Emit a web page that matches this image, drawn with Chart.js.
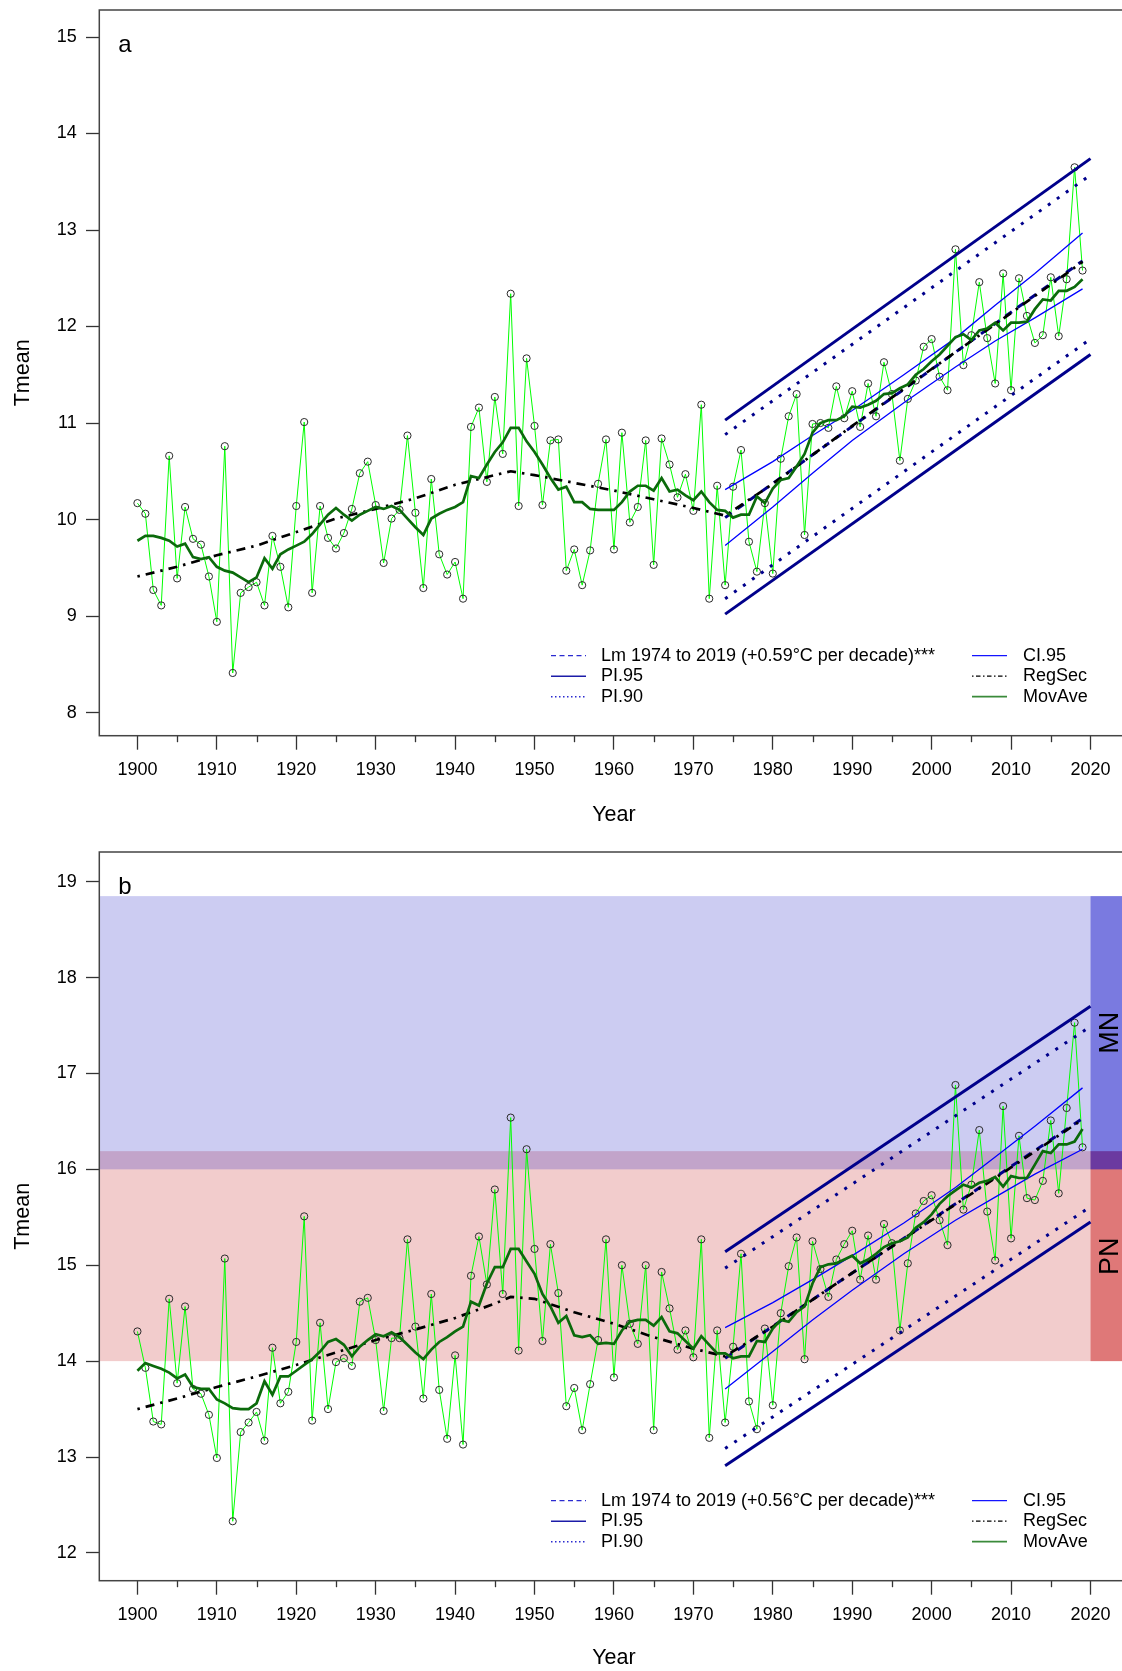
<!DOCTYPE html>
<html>
<head>
<meta charset="utf-8">
<title>Tmean 1900-2019</title>
<script src="https://cdn.jsdelivr.net/npm/chart.js@4.4.1/dist/chart.umd.min.js"></script>
<style>
  html, body { margin: 0; padding: 0; background: #fff; overflow: hidden; }
  body { width: 1122px; height: 1671px; position: relative; }
  canvas { position: absolute; left: 0; }
  #chart-a { top: -30px; }
  #chart-b { top: 812px; }
</style>
</head>
<body>
<canvas id="chart-a" width="1140" height="880"></canvas>
<canvas id="chart-b" width="1140" height="881"></canvas>
<script>
// categories
const years = Array.from({ length: 120 }, (_, i) => 1900 + i);
const xTicks = [1900, 1910, 1920, 1930, 1940, 1950, 1960, 1970, 1980, 1990, 2000, 2010, 2020];
const xMinorTicks = [1905, 1915, 1925, 1935, 1945, 1955, 1965, 1975, 1985, 1995, 2005, 2015];
const yTicksA = [8, 9, 10, 11, 12, 13, 14, 15];
const yTicksB = [12, 13, 14, 15, 16, 17, 18, 19];

// panel a - yearly mean
const tmeanA = [10.17, 10.06, 9.27, 9.11, 10.66, 9.39, 10.13, 9.80, 9.74, 9.41,
  8.94, 10.76, 8.41, 9.24, 9.30, 9.35, 9.11, 9.83, 9.51, 9.09,
  10.14, 11.01, 9.24, 10.14, 9.81, 9.70, 9.86, 10.11, 10.48, 10.60,
  10.15, 9.55, 10.01, 10.10, 10.87, 10.07, 9.29, 10.42, 9.64, 9.43,
  9.56, 9.18, 10.96, 11.16, 10.39, 11.27, 10.68, 12.34, 10.14, 11.67,
  10.97, 10.15, 10.82, 10.83, 9.47, 9.69, 9.32, 9.68, 10.37, 10.83,
  9.69, 10.90, 9.97, 10.13, 10.82, 9.53, 10.84, 10.57, 10.23, 10.47,
  10.09, 11.19, 9.18, 10.35, 9.32, 10.34, 10.72, 9.77, 9.46, 10.17,
  9.44, 10.63, 11.07, 11.30, 9.84, 10.99, 11.00, 10.95, 11.38, 11.05,
  11.33, 10.96, 11.41, 11.07, 11.63, 11.30, 10.61, 11.25, 11.44, 11.79,
  11.87, 11.48, 11.34, 12.80, 11.60, 11.91, 12.46, 11.88, 11.41, 12.55,
  11.34, 12.50, 12.11, 11.83, 11.91, 12.51, 11.90, 12.49, 13.65, 12.58];

const movAveA = [9.78, 9.83, 9.83, 9.81, 9.78, 9.72, 9.75, 9.61, 9.59, 9.61,
  9.51, 9.47, 9.45, 9.40, 9.35, 9.40, 9.60, 9.49, 9.64, 9.69,
  9.73, 9.77, 9.85, 9.95, 10.05, 10.12, 10.05, 9.99, 10.05, 10.09,
  10.13, 10.11, 10.14, 10.10, 10.01, 9.92, 9.84, 10.01, 10.06, 10.10,
  10.13, 10.18, 10.45, 10.43, 10.57, 10.70, 10.80, 10.95, 10.95, 10.81,
  10.70, 10.57, 10.43, 10.31, 10.34, 10.18, 10.18, 10.11, 10.10, 10.10,
  10.10, 10.18, 10.29, 10.35, 10.35, 10.30, 10.43, 10.29, 10.31, 10.25,
  10.20, 10.29, 10.18, 10.10, 10.09, 10.02, 10.05, 10.05, 10.24, 10.17,
  10.32, 10.41, 10.43, 10.55, 10.68, 10.90, 11.00, 11.03, 11.03, 11.07,
  11.17, 11.16, 11.19, 11.23, 11.30, 11.31, 11.36, 11.40, 11.50, 11.56,
  11.64, 11.71, 11.80, 11.89, 11.92, 11.86, 11.96, 11.98, 12.04, 11.96,
  12.04, 12.04, 12.05, 12.18, 12.28, 12.27, 12.37, 12.37, 12.41, 12.49];

// panel b - yearly mean
const tmeanB = [14.31, 13.93, 13.37, 13.34, 14.65, 13.77, 14.57, 13.71, 13.66, 13.44,
  12.99, 15.07, 12.33, 13.26, 13.36, 13.47, 13.17, 14.14, 13.56, 13.68,
  14.20, 15.51, 13.38, 14.40, 13.50, 13.99, 14.03, 13.95, 14.62, 14.66,
  14.22, 13.48, 14.24, 14.24, 15.27, 14.36, 13.61, 14.70, 13.70, 13.19,
  14.06, 13.13, 14.89, 15.30, 14.80, 15.79, 14.70, 16.54, 14.11, 16.21,
  15.17, 14.21, 15.22, 14.71, 13.53, 13.72, 13.28, 13.76, 14.22, 15.27,
  13.83, 15.00, 14.39, 14.18, 15.00, 13.28, 14.93, 14.55, 14.12, 14.32,
  14.04, 15.27, 13.20, 14.32, 13.36, 14.15, 15.12, 13.58, 13.29, 14.34,
  13.54, 14.50, 14.99, 15.29, 14.02, 15.25, 14.96, 14.67, 15.06, 15.22,
  15.36, 14.85, 15.31, 14.85, 15.43, 15.23, 14.32, 15.02, 15.54, 15.67,
  15.73, 15.47, 15.21, 16.88, 15.58, 15.84, 16.41, 15.56, 15.05, 16.66,
  15.28, 16.35, 15.70, 15.68, 15.88, 16.51, 15.75, 16.64, 17.53, 16.23];

const movAveB = [13.90, 13.98, 13.95, 13.92, 13.88, 13.82, 13.86, 13.73, 13.71, 13.71,
  13.60, 13.56, 13.51, 13.50, 13.50, 13.56, 13.79, 13.65, 13.84, 13.84,
  13.90, 13.96, 14.02, 14.10, 14.20, 14.23, 14.17, 14.05, 14.15, 14.22,
  14.28, 14.26, 14.30, 14.25, 14.17, 14.09, 14.02, 14.12, 14.20, 14.25,
  14.31, 14.36, 14.62, 14.58, 14.81, 14.98, 14.98, 15.17, 15.17, 15.04,
  14.91, 14.70, 14.57, 14.40, 14.47, 14.27, 14.25, 14.27, 14.18, 14.19,
  14.18, 14.32, 14.41, 14.43, 14.43, 14.37, 14.46, 14.31, 14.29, 14.21,
  14.13, 14.26, 14.17, 14.08, 14.08, 14.03, 14.05, 14.05, 14.21, 14.20,
  14.34, 14.43, 14.41, 14.51, 14.57, 14.81, 14.98, 15.01, 15.02, 15.06,
  15.10, 15.02, 15.06, 15.12, 15.19, 15.23, 15.25, 15.29, 15.39, 15.45,
  15.53, 15.64, 15.72, 15.78, 15.84, 15.81, 15.86, 15.88, 15.92, 15.82,
  15.93, 15.91, 15.91, 16.05, 16.19, 16.17, 16.26, 16.26, 16.29, 16.42];

// RegSec curve
const regSecYears = [1900, 1905, 1910, 1915, 1920, 1925, 1930, 1935, 1940, 1945, 1947, 1950,
  1955, 1960, 1965, 1970, 1974, 1980, 1990, 2000, 2010, 2019];
const regSecA = [9.41, 9.51, 9.63, 9.73, 9.87, 10.01, 10.11, 10.22, 10.36, 10.46, 10.50, 10.46,
  10.38, 10.30, 10.21, 10.12, 10.04, 10.37, 10.97, 11.56, 12.14, 12.67];
const regSecB = [13.50, 13.61, 13.73, 13.84, 13.96, 14.09, 14.22, 14.33, 14.45, 14.60, 14.67, 14.65,
  14.51, 14.39, 14.25, 14.13, 14.05, 14.36, 14.92, 15.47, 16.02, 16.52];

// linear model 1974-2019 and its bands
const lmYears = [1974, 2019];
const lmA = [10.02, 12.68];
const lmB = [14.03, 16.53];
const ciYears = [1974, 1980, 1985, 1990, 1996.5, 2003, 2008, 2013, 2019];
const ciUpA = [10.31, 10.60, 10.87, 11.13, 11.50, 11.88, 12.22, 12.55, 12.97];
const ciLoA = [9.73, 10.13, 10.48, 10.82, 11.21, 11.58, 11.85, 12.09, 12.39];
const ciUpB = [14.35, 14.61, 14.85, 15.10, 15.44, 15.81, 16.13, 16.45, 16.85];
const ciLoB = [13.71, 14.10, 14.43, 14.74, 15.12, 15.47, 15.71, 15.95, 16.21];
const piYears = [1974, 2020];
const pi95UpA = [11.03, 13.74];
const pi95LoA = [9.02, 11.71];
const pi90UpA = [10.88, 13.57];
const pi90LoA = [9.18, 11.87];
const pi95UpB = [15.14, 17.70];
const pi95LoB = [12.91, 15.45];
const pi90UpB = [14.97, 17.49];
const pi90LoB = [13.09, 15.61];

// ranges shaded in panel b
const mnRange = [16.0, 18.85];
const pnRange = [14.0, 16.19];
const rangeSplitYear = 2020;

const legendLeftA = ['Lm 1974 to 2019 (+0.59°C per decade)***', 'PI.95', 'PI.90'];
const legendLeftB = ['Lm 1974 to 2019 (+0.56°C per decade)***', 'PI.95', 'PI.90'];
const legendRight = ['CI.95', 'RegSec', 'MovAve'];

Chart.defaults.font.family = '"Liberation Sans", Arial, sans-serif';
Chart.defaults.color = '#000';

const FONT = '"Liberation Sans", Arial, sans-serif';
// legend line samples, same order as the label lists
const leftStyles = [
  { color: '#2b2bd0', width: 1.3, dash: [5, 3.5] },
  { color: '#1c1ca8', width: 1.6, dash: [] },
  { color: '#2b2bd0', width: 1.6, dash: [1.5, 2.5] }
];
const rightStyles = [
  { color: '#1414ff', width: 1.3, dash: [] },
  { color: '#000000', width: 1.3, dash: [1.5, 2.5, 4.5, 2.5] },
  { color: '#3a8a3a', width: 1.8, dash: [] }
];

function xy(xs, ys) {
  return xs.map((x, i) => ({ x: x, y: ys[i] }));
}

function lineSet(data, color, width, dash) {
  return {
    data: data, borderColor: color, borderWidth: width, borderDash: dash || [],
    borderCapStyle: 'butt', pointRadius: 0, fill: false, tension: 0
  };
}

function drawSample(ctx, x0, x1, y, st) {
  ctx.save();
  ctx.strokeStyle = st.color;
  ctx.lineWidth = st.width;
  ctx.setLineDash(st.dash);
  ctx.beginPath();
  ctx.moveTo(x0, y);
  ctx.lineTo(x1, y);
  ctx.stroke();
  ctx.restore();
}

// box, minor ticks, panel letter, legend and shaded ranges
const decor = {
  id: 'decor',
  beforeDatasetsDraw(chart, args, opts) {
    if (!opts.bands) return;
    const { ctx, chartArea: a, scales: { x, y } } = chart;
    const xs = x.getPixelForValue(opts.bands.split);
    ctx.save();
    ctx.beginPath();
    ctx.rect(a.left, a.top, a.width, a.height);
    ctx.clip();
    opts.bands.items.forEach(b => {
      const yTop = y.getPixelForValue(b.range[1]);
      const yBot = y.getPixelForValue(b.range[0]);
      ctx.fillStyle = b.light;
      ctx.fillRect(a.left, yTop, xs - a.left, yBot - yTop);
      ctx.fillStyle = b.strong;
      ctx.fillRect(xs, yTop, a.right - xs, yBot - yTop);
    });
    ctx.restore();
  },
  afterDraw(chart, args, opts) {
    const { ctx, chartArea: a, scales: { x, y } } = chart;
    ctx.save();

    // minor ticks
    ctx.strokeStyle = '#333';
    ctx.lineWidth = 1.3;
    xMinorTicks.forEach(v => {
      const px = Math.round(x.getPixelForValue(v)) + 0.5;
      ctx.beginPath();
      ctx.moveTo(px, a.bottom);
      ctx.lineTo(px, a.bottom + 6.5);
      ctx.stroke();
    });

    // plot box
    ctx.strokeStyle = '#444';
    ctx.lineWidth = 1.5;
    ctx.strokeRect(a.left, a.top, a.width, a.height);

    // panel letter
    ctx.fillStyle = '#000';
    ctx.font = '24px ' + FONT;
    ctx.textAlign = 'left';
    ctx.textBaseline = 'middle';
    ctx.fillText(opts.letter, a.left + 19, a.top + opts.letterDy);

    // legend
    ctx.font = '18px ' + FONT;
    const rows = [-80, -59.5, -39];
    opts.left.forEach((t, i) => {
      const ry = a.bottom + rows[i];
      drawSample(ctx, 551, 586, ry, leftStyles[i]);
      ctx.fillText(t, 601, ry);
    });
    opts.right.forEach((t, i) => {
      const ry = a.bottom + rows[i];
      drawSample(ctx, 972, 1007, ry, rightStyles[i]);
      ctx.fillText(t, 1023, ry);
    });

    // range names
    if (opts.bands) {
      const xs = x.getPixelForValue(opts.bands.split);
      const cx = (xs + a.right) / 2;
      ctx.font = '27px ' + FONT;
      ctx.textAlign = 'center';
      opts.bands.items.forEach(b => {
        const cy = (y.getPixelForValue(b.range[0]) + y.getPixelForValue(b.range[1])) / 2;
        ctx.save();
        ctx.translate(cx, cy);
        ctx.rotate(-Math.PI / 2);
        ctx.fillText(b.name, 0, 1);
        ctx.restore();
      });
    }
    ctx.restore();
  }
};

function buildPanel(id, p) {
  const datasets = [
    lineSet(xy(years, p.movAve), '#0b6a0b', 2.7),
    lineSet(xy(regSecYears, p.regSec), '#000000', 2.7, [2.5, 6, 9, 6]),
    lineSet(xy(lmYears, p.lm), '#00008b', 3, [8, 7]),
    lineSet(xy(ciYears, p.ciUp), '#0000ff', 1.3),
    lineSet(xy(ciYears, p.ciLo), '#0000ff', 1.3),
    lineSet(xy(piYears, p.pi95Up), '#00008b', 3),
    lineSet(xy(piYears, p.pi95Lo), '#00008b', 3),
    lineSet(xy(piYears, p.pi90Up), '#00008b', 3, [3, 8]),
    lineSet(xy(piYears, p.pi90Lo), '#00008b', 3, [3, 8]),
    {
      data: xy(years, p.tmean), borderColor: '#00ff00', borderWidth: 1, tension: 0,
      pointRadius: 3.6, pointBorderWidth: 1, pointBorderColor: '#2a2a2a',
      pointBackgroundColor: 'rgba(0,0,0,0)'
    }
  ];

  return new Chart(document.getElementById(id), {
    type: 'line',
    data: { datasets: datasets },
    plugins: [decor],
    options: {
      responsive: false,
      animation: false,
      events: [],
      layout: { padding: { top: 40, left: 0, right: 11.4, bottom: 18.4 } },
      plugins: {
        legend: { display: false },
        tooltip: { enabled: false },
        decor: { letter: p.letter, letterDy: p.letterDy, left: p.legendLeft, right: legendRight, bands: p.bands }
      },
      scales: {
        x: {
          type: 'linear', min: 1895.2, max: 2024.8,
          afterBuildTicks: s => { s.ticks = xTicks.map(v => ({ value: v })); },
          afterFit: s => { s.height = p.xAxisHeight; },
          ticks: { autoSkip: false, maxRotation: 0, padding: 9.2, font: { size: 18 }, color: '#000', callback: v => String(v) },
          grid: { drawOnChartArea: false, tickLength: 14, tickColor: '#333', tickWidth: 1.3 },
          border: { display: false },
          title: { display: true, text: 'Year', font: { size: 21.5 }, color: '#000', padding: { top: 4, bottom: 4 } }
        },
        y: {
          type: 'linear', min: p.yMin, max: p.yMax,
          afterBuildTicks: s => { s.ticks = p.yTicks.map(v => ({ value: v })); },
          afterFit: s => { s.width = 99.3; },
          ticks: { padding: 9.3, font: { size: 18 }, color: '#000', callback: v => String(v) },
          grid: { drawOnChartArea: false, tickLength: 13.3, tickColor: '#333', tickWidth: 1.3 },
          border: { display: false },
          title: { display: true, text: 'Tmean', font: { size: 21.5 }, color: '#000', padding: { top: 10, bottom: 0 } }
        }
      }
    }
  });
}

buildPanel('chart-a', {
  letter: 'a', letterDy: 35, xAxisHeight: 95.9, yMin: 7.76, yMax: 15.28, yTicks: yTicksA,
  tmean: tmeanA, movAve: movAveA, regSec: regSecA, lm: lmA, ciUp: ciUpA, ciLo: ciLoA,
  pi95Up: pi95UpA, pi95Lo: pi95LoA, pi90Up: pi90UpA, pi90Lo: pi90LoA,
  legendLeft: legendLeftA, bands: null
});

buildPanel('chart-b', {
  letter: 'b', letterDy: 35, xAxisHeight: 93.9, yMin: 11.71, yMax: 19.31, yTicks: yTicksB,
  tmean: tmeanB, movAve: movAveB, regSec: regSecB, lm: lmB, ciUp: ciUpB, ciLo: ciLoB,
  pi95Up: pi95UpB, pi95Lo: pi95LoB, pi90Up: pi90UpB, pi90Lo: pi90LoB,
  legendLeft: legendLeftB,
  bands: {
    split: rangeSplitYear,
    items: [
      { name: 'PN', range: pnRange, light: 'rgba(190,0,0,0.2)', strong: 'rgba(195,0,0,0.53)' },
      { name: 'MN', range: mnRange, light: 'rgba(0,0,190,0.2)', strong: 'rgba(0,0,195,0.52)' }
    ]
  }
});
</script>
</body>
</html>
